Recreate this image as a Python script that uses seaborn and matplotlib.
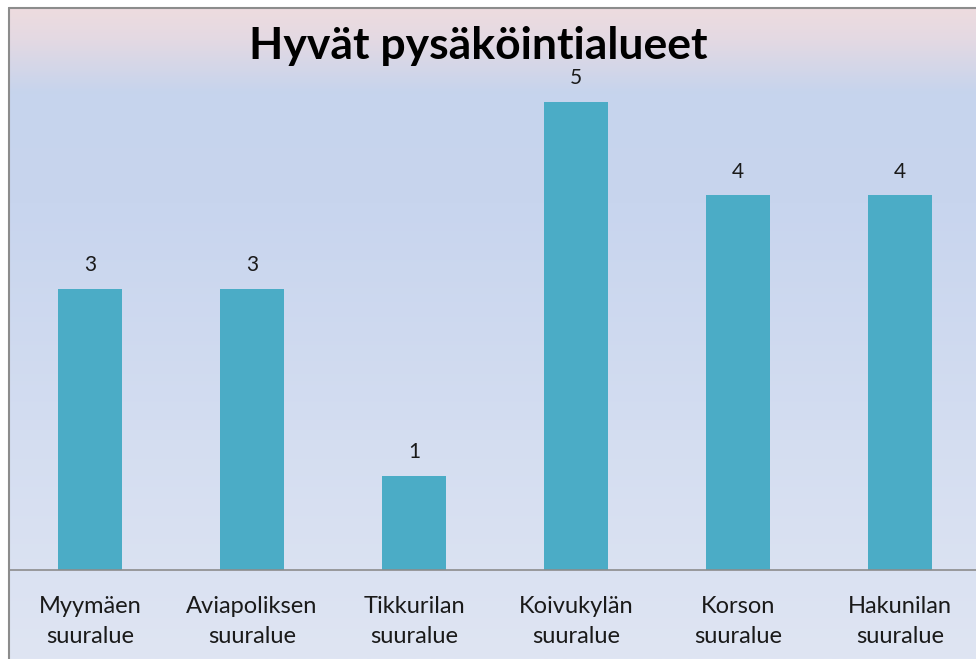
import numpy as np
import pandas as pd
import seaborn as sns
import matplotlib.pyplot as plt
from matplotlib.colors import LinearSegmentedColormap

areas = ["Myymäen\nsuuralue", "Aviapoliksen\nsuuralue", "Tikkurilan\nsuuralue",
         "Koivukylän\nsuuralue", "Korson\nsuuralue", "Hakunilan\nsuuralue"]
counts = [3, 3, 1, 5, 4, 4]
title = "Hyvät pysäköintialueet"

W, H = 976, 659
sns.set_theme(style="white")
plt.rcParams['font.family'] = ['Lato', 'DejaVu Sans']

fig = plt.figure(figsize=(W / 100, H / 100), dpi=100)
fig.patch.set_facecolor("white")

# background gradient (chart area inside the border), top -> bottom
bg = fig.add_axes([8 / W, 0, 1 - 8 / W, 1 - 7 / H])
bg.set_axis_off()
grad_cmap = LinearSegmentedColormap.from_list(
    "bg", [(0.0, "#eedcdf"), (0.05, "#e3d9e3"), (0.13, "#c6d4ed"),
           (0.3, "#c8d5ee"), (1.0, "#dfe5f3")])
grad = np.linspace(0, 1, 256).reshape(-1, 1)
bg.imshow(grad, aspect="auto", cmap=grad_cmap, origin="upper",
          extent=[0, 1, 0, 1])
fig.add_artist(plt.Line2D([8.5 / W, 8.5 / W], [0, 1 - 7.5 / H], color="#8c8c8c", lw=1.5))
fig.add_artist(plt.Line2D([8.5 / W, 1], [1 - 7.5 / H, 1 - 7.5 / H], color="#8c8c8c", lw=1.5))

# plot area
ax = fig.add_axes([9 / W, 89 / H, 972 / W, 515 / H])
ax.patch.set_alpha(0)
df = pd.DataFrame({"area": areas, "count": counts})
sns.barplot(data=df, x="area", y="count", color="#4bacc6", saturation=1,
            width=0.4, linewidth=0, ax=ax)
ax.set_xlim(-0.5, 5.5)
ax.set_ylim(0, 5.5)
ax.bar_label(ax.containers[0], padding=10, fontsize=15, color="#1a1a1a")
ax.set_xlabel("")
ax.set_ylabel("")
ax.set_yticks([])
for s in ["top", "right", "left"]:
    ax.spines[s].set_visible(False)
ax.spines["bottom"].set_color("#8c8c8c")
ax.spines["bottom"].set_linewidth(1.2)
ax.tick_params(axis="x", length=0, pad=19, labelsize=17, labelcolor="#1a1a1a")
for lbl in ax.get_xticklabels():
    lbl.set_linespacing(1.5)

fig.text(478 / W, 1 - 46 / H, title, ha="center", va="center",
         fontsize=32, fontweight="bold", color="black")

fig.savefig("out.png", dpi=100)
